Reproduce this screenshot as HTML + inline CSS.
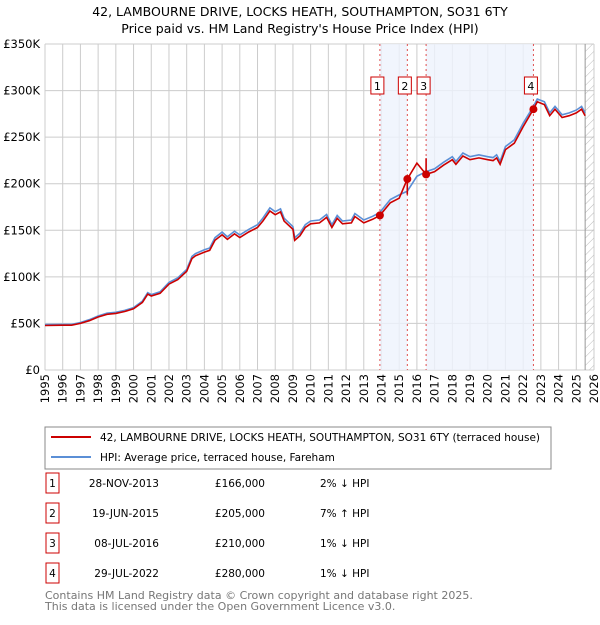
<!DOCTYPE html>
<html><head><meta charset="utf-8"><style>
body{margin:0;background:#fff;font-family:"Liberation Sans","DejaVu Sans",sans-serif;}
svg text{font-family:"DejaVu Sans","Liberation Sans",sans-serif;}
</style></head><body>
<svg id="c" width="600" height="620" xmlns="http://www.w3.org/2000/svg">
<defs><pattern id="hatch" width="6" height="6" patternUnits="userSpaceOnUse" patternTransform="rotate(45)"><line x1="0" y1="0" x2="0" y2="6" stroke="#bbb" stroke-width="1"/></pattern></defs>
<text x="300" y="16" text-anchor="middle" font-size="12.5" fill="#000">42, LAMBOURNE DRIVE, LOCKS HEATH, SOUTHAMPTON, SO31 6TY</text>
<text x="300" y="33" text-anchor="middle" font-size="12.5" fill="#000">Price paid vs. HM Land Registry's House Price Index (HPI)</text>
<g id="grid"></g><g id="bands"></g><g id="lines"></g><g id="marks"></g><g id="axes"></g>
<rect x="45" y="427" width="506" height="42" fill="#fff" stroke="#888"/>
<line x1="51" y1="437" x2="91" y2="437" stroke="#cc0000" stroke-width="2"/>
<text x="100" y="441" font-size="10.5">42, LAMBOURNE DRIVE, LOCKS HEATH, SOUTHAMPTON, SO31 6TY (terraced house)</text>
<line x1="51" y1="457" x2="91" y2="457" stroke="#5b8fd6" stroke-width="2"/>
<text x="100" y="461" font-size="10.5">HPI: Average price, terraced house, Fareham</text>
<g id="table"></g>
<text x="45" y="599" font-size="11" fill="#777">Contains HM Land Registry data © Crown copyright and database right 2025.</text>
<text x="45" y="610" font-size="11" fill="#777">This data is licensed under the Open Government Licence v3.0.</text>
</svg>
<script>
const hpiDates=[1995,1996,1996.5,1997,1997.5,1998,1998.5,1999,1999.5,2000,2000.5,2000.8,2001,2001.5,2002,2002.5,2003,2003.3,2003.5,2004,2004.3,2004.6,2005,2005.3,2005.7,2006,2006.5,2007,2007.3,2007.7,2008,2008.3,2008.5,2009,2009.1,2009.4,2009.7,2010,2010.5,2010.9,2011.2,2011.5,2011.8,2012.3,2012.5,2013,2013.5,2013.9,2014.5,2015,2015.46,2016,2016.52,2017,2017.5,2018,2018.2,2018.6,2019,2019.5,2020,2020.3,2020.5,2020.7,2021,2021.5,2022,2022.58,2022.8,2023.2,2023.5,2023.8,2024.2,2024.6,2025,2025.3,2025.5];
const hpiValues=[48.7,49,49,51,54,58,61,62,64,67,74,83,81,84,94,99,108,122,125,129,131,142,148,143,149,145,151,156,163,174,170,173,163,154,142,147,156,160,161,167,156,166,160,161,168,161,165,169,183,188,192,208,213,216,223,229,224,233,229,231,229,228,231,224,240,247,265,283,291,288,276,283,274,276,279,283,276];
const saleLabels=["1","2","3","4"];
const saleDates=[2013.91,2015.46,2016.52,2022.58];
const saleText=["28-NOV-2013","19-JUN-2015","08-JUL-2016","29-JUL-2022"];
const salePrices=[166,205,210,280];
const salePriceText=["£166,000","£205,000","£210,000","£280,000"];
const saleHpiText=["2% ↓ HPI","7% ↑ HPI","1% ↓ HPI","1% ↓ HPI"];
const yTicks=[0,50,100,150,200,250,300,350];
const yTickLabels=["£0","£50K","£100K","£150K","£200K","£250K","£300K","£350K"];
const xTicks=[1995,1996,1997,1998,1999,2000,2001,2002,2003,2004,2005,2006,2007,2008,2009,2010,2011,2012,2013,2014,2015,2016,2017,2018,2019,2020,2021,2022,2023,2024,2025,2026];

const NS="http://www.w3.org/2000/svg";
const L=45,R=594,T=44,B=370;
const X=d=>L+(d-1995)/(2026-1995)*(R-L);
const Y=v=>B-v/350*(B-T);
function mk(tag,a,p){const e=document.createElementNS(NS,tag);for(const k in a)e.setAttribute(k,a[k]);p.appendChild(e);return e;}
const g=id=>document.getElementById(id);
function hpiAt(d){for(let i=1;i<hpiDates.length;i++){if(d<=hpiDates[i]){const t=(d-hpiDates[i-1])/(hpiDates[i]-hpiDates[i-1]);return hpiValues[i-1]+t*(hpiValues[i]-hpiValues[i-1]);}}return hpiValues[hpiValues.length-1];}

xTicks.forEach(t=>{const l=mk('line',{x1:X(t),x2:X(t),y1:T,y2:B,stroke:'#ccc','stroke-width':1},g('grid'));

});
yTicks.forEach(t=>{const l=mk('line',{x1:L,x2:R,y1:Y(t),y2:Y(t),stroke:'#ccc','stroke-width':1},g('grid'));

});
[[0,1],[2,3]].forEach(p=>{const r=mk('rect',{x:X(saleDates[p[0]]),y:T,width:X(saleDates[p[1]])-X(saleDates[p[0]]),height:B-T,fill:'#eef3fc',opacity:0.8},g('bands'));

});
const hx=X(2025.5);
const hr=mk('rect',{x:hx,y:T,width:R-hx,height:B-T,fill:'url(#hatch)'},g('bands'));


mk('line',{x1:hx,x2:hx,y1:T,y2:B,stroke:'#999'},g('bands'));
saleDates.forEach((d,i)=>{const l=mk('line',{x1:X(d),x2:X(d),y1:T,y2:B,stroke:'#e05050','stroke-dasharray':'2,3','stroke-width':1},g('bands'));


const bx=mk('rect',{x:X(d)-9,y:77,width:13,height:17,fill:'#fff',stroke:'#cc0000'},g('marks'));


const tx=mk('text',{x:X(d)-2.5,y:90,'text-anchor':'middle','font-size':11},g('marks'));tx.textContent=saleLabels[i];});
let dp='';hpiDates.forEach((d,i)=>{dp+=(i?'L':'M')+X(d).toFixed(1)+','+Y(hpiValues[i]).toFixed(1);});
const hl=mk('path',{d:dp,fill:'none',stroke:'#5b8fd6','stroke-width':1.6},g('lines'));


const ratios=saleDates.map((d,i)=>salePrices[i]/hpiAt(d));
const pts=[];
hpiDates.forEach((d,i)=>{let k=0;for(let j=0;j<saleDates.length;j++)if(d>=saleDates[j])k=j;pts.push([d,hpiValues[i]*ratios[k]]);});
saleDates.forEach((d,j)=>{if(j>0)pts.push([d,hpiAt(d)*ratios[j-1]]);pts.push([d+1e-4,salePrices[j]]);});
pts.sort((a,b)=>a[0]-b[0]);
let rp='';pts.forEach((p,i)=>{rp+=(i?'L':'M')+X(p[0]).toFixed(1)+','+Y(p[1]).toFixed(1);});
const pl=mk('path',{d:rp,fill:'none',stroke:'#cc0000','stroke-width':1.6},g('lines'));


saleDates.forEach((d,i)=>{const c=mk('circle',{cx:X(d),cy:Y(salePrices[i]),r:4,fill:'#cc0000'},g('marks'));

});
yTicks.forEach((t,i)=>{const e=mk('text',{x:40,y:Y(t)+4,'text-anchor':'end','font-size':11.5},g('axes'));e.textContent=yTickLabels[i];

});
xTicks.forEach(t=>{const e=mk('text',{x:X(t)+4,y:374,'text-anchor':'end','font-size':11.5,transform:`rotate(-90 ${X(t)+4} 374)`},g('axes'));e.textContent=t;

});
saleDates.forEach((d,i)=>{const y=483+i*30;
const b=mk('rect',{x:46,y:y-10,width:13,height:20,fill:'#fff',stroke:'#cc0000'},g('table'));


const n=mk('text',{x:52.5,y:y+4,'text-anchor':'middle','font-size':10.5},g('table'));n.textContent=saleLabels[i];
const t1=mk('text',{x:159,y:y+4,'text-anchor':'end','font-size':10.5},g('table'));t1.textContent=saleText[i];


const t2=mk('text',{x:265,y:y+4,'text-anchor':'end','font-size':10.5},g('table'));t2.textContent=salePriceText[i];


const t3=mk('text',{x:320,y:y+4,'font-size':10.5},g('table'));t3.textContent=saleHpiText[i];

});
</script>
</body></html>
